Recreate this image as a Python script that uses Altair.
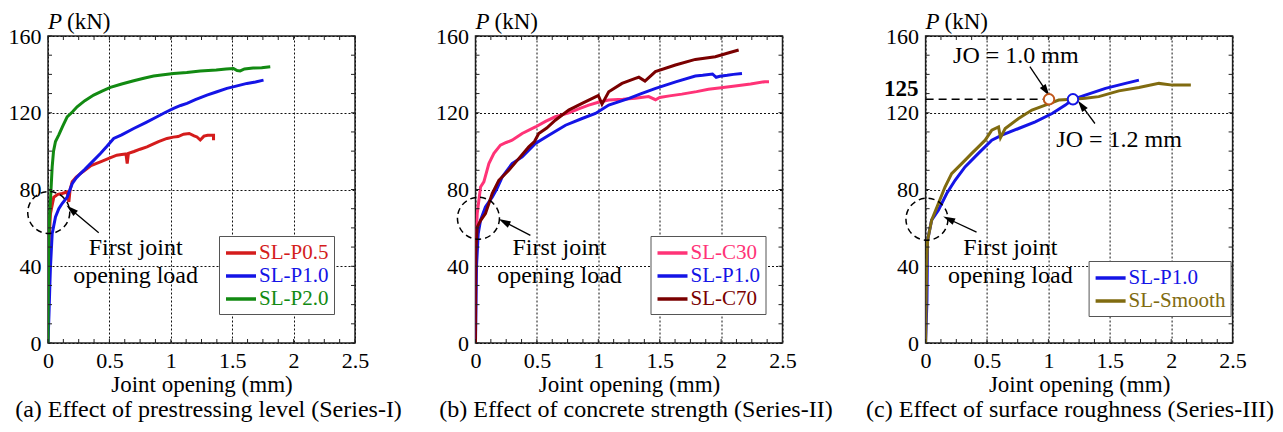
import math
import altair as alt
import pandas as pd

FONT = "Liberation Serif"

# ---------------- data ----------------
# (a) Effect of prestressing level
a_names = ["SL-P0.5", "SL-P1.0", "SL-P2.0"]
a_colors = ["#d41c1c", "#1414e6", "#128a12"]
a_p05_x = [0, 0.005, 0.01, 0.02, 0.047, 0.08, 0.115, 0.156, 0.17, 0.18, 0.197, 0.23, 0.264, 0.3, 0.35,
           0.427, 0.5, 0.56, 0.6, 0.635, 0.645, 0.655, 0.7, 0.75, 0.806, 0.85, 0.9, 0.969, 1.02, 1.06,
           1.104, 1.15, 1.19, 1.213, 1.24, 1.27, 1.3, 1.348, 1.348]
a_p05_y = [0, 30, 55, 67.4, 76, 77.5, 77.9, 78.7, 73.5, 80, 84, 86.5, 88.3, 90, 92.5,
           94.4, 96.3, 97.9, 98.2, 98.5, 93.5, 98.8, 99.8, 101, 102.2, 103.5, 105, 106.6, 107.3, 107.6,
           108.8, 109.2, 108, 107.4, 105.8, 107.8, 108.3, 108.3, 105.7]
a_p10_x = [0, 0.008, 0.015, 0.02, 0.034, 0.061, 0.088, 0.115, 0.156, 0.197, 0.23, 0.264, 0.3, 0.346,
           0.427, 0.48, 0.535, 0.6, 0.698, 0.8, 0.888, 0.95, 1.023, 1.08, 1.132, 1.2, 1.294, 1.37, 1.457,
           1.54, 1.62, 1.69, 1.755]
a_p10_y = [0, 15, 30, 39.6, 57, 65.7, 70, 72.7, 76, 83, 86, 88.3, 90.5, 93.5,
           98.8, 102.5, 106.6, 108.5, 111.8, 115, 117.9, 120, 122.3, 123.8, 124.9, 126.8, 129.2, 130.8, 132.7,
           134, 135.3, 136, 137]
a_p20_x = [0, 0.003, 0.006, 0.01, 0.02, 0.034, 0.045, 0.061, 0.088, 0.12, 0.156, 0.2, 0.237, 0.3, 0.372,
           0.44, 0.508, 0.6, 0.698, 0.78, 0.86, 0.94, 1.023, 1.13, 1.24, 1.37, 1.45, 1.51, 1.54, 1.565,
           1.6, 1.67, 1.74, 1.81]
a_p20_y = [0, 30, 55, 62, 74.4, 91.8, 100, 105, 108.5, 113, 117.9, 120.5, 123.1, 126.3, 129.2,
           131.3, 133.2, 135, 136.7, 138, 139.1, 139.8, 140.5, 141, 141.7, 142.3, 142.8, 143.1, 142, 141.8,
           142.8, 143.3, 143.5, 144]

# (b) Effect of concrete strength
b_names = ["SL-C30", "SL-P1.0", "SL-C70"]
b_colors = ["#ff3377", "#1414e6", "#7a0000"]
b_c30_x = [0, 0.002, 0.005, 0.014, 0.041, 0.068, 0.109, 0.15, 0.203, 0.25, 0.298, 0.38, 0.488, 0.57,
           0.65, 0.76, 0.84, 0.922, 1.0, 1.085, 1.2, 1.3, 1.41, 1.466, 1.5, 1.58, 1.68, 1.8, 1.897, 2.0,
           2.114, 2.24, 2.357, 2.39]
b_c30_y = [0, 36, 55, 67.4, 81.3, 84, 93.5, 98.8, 103.1, 104.5, 105.7, 109.2, 112.6, 115.5,
           117.9, 119.9, 122, 124, 125.5, 126.6, 127, 127.5, 128.4, 126.8, 128, 128.8, 129.7, 131, 132.2, 133,
           133.9, 135, 136.2, 136.2]
b_p10_x = [0, 0.004, 0.008, 0.022, 0.041, 0.081, 0.136, 0.175, 0.217, 0.298, 0.38, 0.488, 0.597, 0.733,
           0.868, 0.977, 1.085, 1.25, 1.35, 1.467, 1.63, 1.79, 1.85, 1.93, 1.96, 1.99, 2.05, 2.1, 2.17]
b_p10_y = [0, 20, 39.6, 57, 64, 70.9, 76, 80.5, 86.5, 93.5, 97, 104, 108.3, 113.5,
           117, 119.6, 124, 127.5, 130, 132.7, 136.1, 139.1, 139.5, 140.2, 138.5, 139, 139.5, 140, 140.5]
b_c70_x = [0, 0.001, 0.003, 0.014, 0.041, 0.081, 0.109, 0.136, 0.19, 0.271, 0.352, 0.434, 0.48, 0.515,
           0.58, 0.65, 0.759, 0.868, 0.977, 1.0, 1.03, 1.085, 1.193, 1.302, 1.33, 1.38, 1.465, 1.628, 1.79,
           1.953, 2.05, 2.143]
b_c70_y = [0, 30, 48, 60.4, 63.8, 67.4, 72.7, 77.9, 84.8, 90, 96.1, 102.2, 105, 109.2,
           112, 116.1, 121.4, 124.9, 128.3, 129, 124.5, 130.9, 135.3, 137.9, 138.5, 136.5, 141.4, 144.9, 147.8,
           149.2, 151, 152.7]

# (c) Effect of surface roughness
c_names = ["SL-P1.0", "SL-Smooth"]
c_colors = ["#1414e6", "#806b10"]
c_p10_x = [0, 0.005, 0.011, 0.016, 0.049, 0.104, 0.172, 0.24, 0.321, 0.43, 0.539, 0.621, 0.757, 0.893,
           1.03, 1.138, 1.2, 1.3, 1.465, 1.628, 1.737]
c_p10_y = [0, 10, 22, 53.5, 64, 69.2, 77.9, 84.8, 91.8, 98.8, 105.7, 108.3, 111.8, 115.3,
           119.6, 124, 127, 129.2, 132.7, 135.3, 137]
c_sm_x = [0, 0.004, 0.008, 0.016, 0.049, 0.104, 0.158, 0.212, 0.294, 0.376, 0.43, 0.485, 0.539, 0.594,
          0.61, 0.648, 0.757, 0.866, 0.975, 1.084, 1.2, 1.3, 1.41, 1.574, 1.737, 1.9, 2.01, 2.16]
c_sm_y = [0, 20, 39.6, 53.5, 64, 72.7, 81.3, 88.3, 93.5, 98.8, 102.2, 105.7, 110.9, 112.6,
          107, 111.8, 117, 121.4, 124, 126.6, 127, 127.5, 128.4, 131.4, 133.2, 135.3, 134.4, 134.4]

# annotation positions (data units)
circle_a = (0.006, 68)
circle_b = (0.024, 65)
circle_c = (0.011, 64.5)
arrow_a = (0.413, 57.5, 0.19, 69.5)
arrow_b = (0.447, 56.1, 0.235, 63.1)
arrow_c = (0.415, 57.8, 0.19, 64.5)
label_a = (0.714, 49.4, 35.0)
label_b = (0.684, 49.4, 34.8)
label_c = (0.69, 49.4, 34.7)
jo10 = (1.005, 127)
jo12 = (1.2, 127)
jo10_arrow = (0.849, 144, 0.98, 131.5)
jo12_arrow = (1.379, 114.4, 1.27, 123.8)
jo10_text = (0.735, 149.4)
jo12_text = (1.576, 106)
dash_125 = (0, 0.975, 127)

x_major = [0, 0.5, 1, 1.5, 2, 2.5]
y_major = [0, 40, 80, 120, 160]
x_minor = [0, 0.125, 0.25, 0.375, 0.5, 0.625, 0.75, 0.875, 1, 1.125, 1.25, 1.375, 1.5, 1.625, 1.75,
           1.875, 2, 2.125, 2.25, 2.375, 2.5]
y_minor = [0, 10, 20, 30, 40, 50, 60, 70, 80, 90, 100, 110, 120, 130, 140, 150, 160]

W = 307
H = 307
PX_X = W / 2.5
PX_Y = H / 160.0

xscale = alt.Scale(domain=[0, 2.5], nice=False, zero=False)
yscale = alt.Scale(domain=[0, 160], nice=False, zero=False)
xaxis = alt.Axis(values=x_major, format="~g", title="Joint opening (mm)", grid=True, ticks=False,
                 tickSize=0, domain=False, labelPadding=7, titlePadding=2, labelFlush=False)
yaxis = alt.Axis(values=y_major, title=None, grid=True, ticks=False, tickSize=0, domain=False,
                 labelPadding=7, labelFlush=False)


def X(field, **kw):
    return alt.X(field, type="quantitative", scale=xscale, axis=xaxis, **kw)


def Y(field, **kw):
    return alt.Y(field, type="quantitative", scale=yscale, axis=yaxis, **kw)


def series_df(names, xs, ys):
    rows = []
    for n, xv, yv in zip(names, xs, ys):
        for i, (a, b) in enumerate(zip(xv, yv)):
            rows.append({"series": n, "x": a, "y": b, "i": i})
    return pd.DataFrame(rows)


def tick_layers():
    xt = pd.DataFrame({"x": x_minor})
    yt = pd.DataFrame({"y": y_minor})
    st = dict(color="#222", strokeWidth=1)
    return [
        alt.Chart(xt).mark_rule(**st).encode(x=X("x"), y=alt.value(H), y2=alt.value(H - 4)),
        alt.Chart(xt).mark_rule(**st).encode(x=X("x"), y=alt.value(0), y2=alt.value(4)),
        alt.Chart(yt).mark_rule(**st).encode(y=Y("y"), x=alt.value(0), x2=alt.value(4)),
        alt.Chart(yt).mark_rule(**st).encode(y=Y("y"), x=alt.value(W), x2=alt.value(W - 4)),
    ]


def label_color_expr(names, colors):
    expr = "'black'"
    for n, c in zip(reversed(names), reversed(colors)):
        expr = f"datum.label == '{n}' ? '{c}' : ({expr})"
    return alt.ExprRef(expr=expr)


def lines(names, colors, xs, ys, lx, ly):
    df = series_df(names, xs, ys)
    legend = alt.Legend(title=None, orient="none", legendX=lx, legendY=ly,
                        symbolType="M-1,0H2", symbolSize=400, symbolStrokeWidth=3.5,
                        labelFont=FONT, labelFontSize=21, labelColor=label_color_expr(names, colors),
                        labelOffset=11, strokeColor="#555", fillColor="white", padding=5,
                        rowPadding=1)
    return alt.Chart(df).mark_line(strokeWidth=3, clip=True).encode(
        x=X("x"), y=Y("y"),
        color=alt.Color("series:N", scale=alt.Scale(domain=names, range=colors), legend=legend),
        order="i:Q",
        detail="series:N",
    )


def circle_layer(c):
    df = pd.DataFrame({"x": [c[0]], "y": [c[1]]})
    return alt.Chart(df).mark_point(shape="circle", size=1764, filled=False, color="black",
                                    strokeWidth=1.5, strokeDash=[6, 4], opacity=1).encode(x=X("x"), y=Y("y"))


def arrow_layers(a):
    x1, y1, x2, y2 = a
    df = pd.DataFrame({"x": [x1], "y": [y1], "x2": [x2], "y2": [y2]})
    dxp = (x2 - x1) * PX_X
    dyp = -(y2 - y1) * PX_Y
    ang = math.degrees(math.atan2(dxp, -dyp)) % 360
    line = alt.Chart(df).mark_rule(color="black", strokeWidth=1.3).encode(
        x=X("x"), y=Y("y"), x2="x2:Q", y2="y2:Q")
    head = alt.Chart(pd.DataFrame({"x": [x2], "y": [y2]})).mark_point(
        shape="M0,-1L0.55,0.9L-0.55,0.9Z", size=160, filled=True, color="black", opacity=1,
        angle=ang).encode(x=X("x"), y=Y("y"))
    return [line, head]


def two_line_text(t):
    df = pd.DataFrame({"x": [t[0], t[0]], "y": [t[1], t[2]], "t": ["First joint", "opening load"]})
    return alt.Chart(df).mark_text(font=FONT, fontSize=24, color="black", align="center",
                                   baseline="middle").encode(x=X("x"), y=Y("y"), text="t:N")


def ylabel_layers():
    p = alt.Chart(pd.DataFrame({"t": ["P"]})).mark_text(
        font=FONT, fontSize=23, fontStyle="italic", align="left", baseline="alphabetic", color="black"
    ).encode(text="t:N", x=alt.value(0), y=alt.value(-7))
    kn = alt.Chart(pd.DataFrame({"t": ["(kN)"]})).mark_text(
        font=FONT, fontSize=23, align="left", baseline="alphabetic", color="black"
    ).encode(text="t:N", x=alt.value(19), y=alt.value(-7))
    return [p, kn]


def caption(text, dx):
    return alt.TitleParams(text=text, orient="bottom", font=FONT, fontSize=24, fontWeight="normal",
                           color="black", offset=2, dx=dx, anchor="middle")


panel_a = alt.layer(
    lines(a_names, a_colors, [a_p05_x, a_p10_x, a_p20_x], [a_p05_y, a_p10_y, a_p20_y], 171, 200),
    *tick_layers(),
    circle_layer(circle_a), *arrow_layers(arrow_a), two_line_text(label_a),
    *ylabel_layers(),
).properties(width=W, height=H, title=caption("(a) Effect of prestressing level (Series-I)", 7))

panel_b = alt.layer(
    lines(b_names, b_colors, [b_c30_x, b_p10_x, b_c70_x], [b_c30_y, b_p10_y, b_c70_y], 175, 200),
    *tick_layers(),
    circle_layer(circle_b), *arrow_layers(arrow_b), two_line_text(label_b),
    *ylabel_layers(),
).properties(width=W, height=H, title=caption("(b) Effect of concrete strength (Series-II)", 7))

dash_df = pd.DataFrame({"x": [dash_125[0]], "x2": [dash_125[1]], "y": [dash_125[2]]})
dash = alt.Chart(dash_df).mark_rule(color="black", strokeWidth=1.5, strokeDash=[8, 5]).encode(
    x=X("x"), x2="x2:Q", y=Y("y"))
lab125 = alt.Chart(pd.DataFrame({"y": [dash_125[2]], "t": ["125"]})).mark_text(
    font=FONT, fontSize=23, fontWeight="bold", align="right", baseline="middle", dy=-10, color="black"
).encode(x=alt.value(-7), y=Y("y"), text="t:N")
jo_pts = alt.Chart(pd.DataFrame({"x": [jo10[0], jo12[0]], "y": [jo10[1], jo12[1]],
                                 "c": ["#c0561a", "#1414e6"]})).mark_point(
    shape="circle", size=110, filled=True, fill="white", strokeWidth=2, opacity=1).encode(
    x=X("x"), y=Y("y"), stroke=alt.Stroke("c:N", scale=None))
jo_txt = alt.Chart(pd.DataFrame({"x": [jo10_text[0], jo12_text[0]], "y": [jo10_text[1], jo12_text[1]],
                                 "t": ["JO = 1.0 mm", "JO = 1.2 mm"]})).mark_text(
    font=FONT, fontSize=24, align="center", baseline="middle", color="black").encode(
    x=X("x"), y=Y("y"), text="t:N")

panel_c = alt.layer(
    lines(c_names, c_colors, [c_p10_x, c_sm_x], [c_p10_y, c_sm_y], 163, 225),
    *tick_layers(),
    dash, lab125,
    circle_layer(circle_c), *arrow_layers(arrow_c), two_line_text(label_c),
    *arrow_layers(jo10_arrow), *arrow_layers(jo12_arrow),
    jo_pts, jo_txt,
    *ylabel_layers(),
).properties(width=W, height=H, title=caption("(c) Effect of surface roughness (Series-III)", -9))

left = alt.hconcat(panel_a, panel_b, spacing=31.5).resolve_scale(
    color="independent").resolve_legend(color="independent")
chart = alt.hconcat(left, panel_c, spacing=30.6).resolve_scale(
    color="independent").resolve_legend(color="independent")

chart = chart.properties(
    padding={"left": 7, "top": 10, "right": 5, "bottom": 0},
    background="white",
).configure_view(stroke="#222", strokeWidth=1.5).configure_axis(
    labelFont=FONT, labelFontSize=22, labelColor="black", titleFont=FONT, titleFontSize=23,
    titleFontWeight="normal", titleColor="black", gridColor="#111", gridDash=[2, 2], gridWidth=1,
    gridOpacity=1,
)

chart.save("out.html", embed_options={"renderer": "svg", "actions": False})
